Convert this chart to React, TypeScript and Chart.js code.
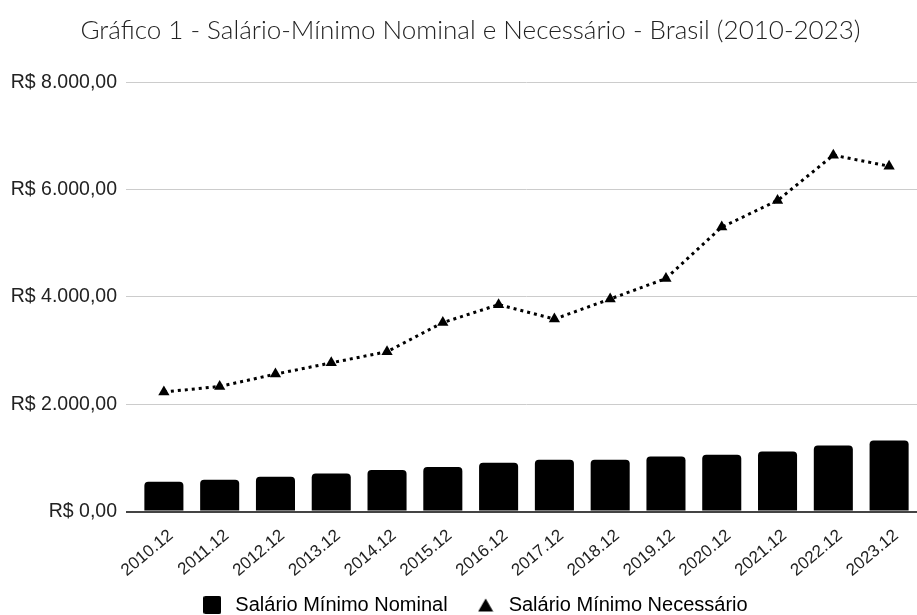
import React, { useEffect, useRef } from 'react';
import { Chart, registerables } from 'chart.js';

Chart.register(...registerables);

const titleText = 'Gráfico 1 - Salário-Mínimo Nominal e Necessário - Brasil (2010-2023)';
const categories = ['2010.12', '2011.12', '2012.12', '2013.12', '2014.12', '2015.12', '2016.12', '2017.12', '2018.12', '2019.12', '2020.12', '2021.12', '2022.12', '2023.12'];
const seriesNames = ['Salário Mínimo Nominal', 'Salário Mínimo Necessário'];
const nominalValues = [554, 591, 647, 709, 772, 828, 910, 965, 965, 1026, 1058, 1119, 1231, 1325];
const necessaryValues = [2227, 2330, 2560, 2770, 2978, 3520, 3855, 3585, 3960, 4342, 5300, 5795, 6640, 6435];
const yTickValues = [0, 2000, 4000, 6000, 8000];
const yTickLabels = ['R$ 0,00', 'R$ 2.000,00', 'R$ 4.000,00', 'R$ 6.000,00', 'R$ 8.000,00'];

const sansFamily = '"Liberation Sans", Arial, sans-serif';

const shiftPlugin = {
  id: 'shiftBlocks',
  afterLayout(chart: any) {
    const t = chart.titleBlock;
    if (t) {
      t.left += 12;
      t.right += 12;
    }
    const l = chart.legend;
    if (l) {
      l.left += 15;
      l.right += 15;
      l.top -= 7.5;
      l.bottom -= 7.5;
    }
  },
};

export default function App() {
  const ref = useRef<HTMLCanvasElement>(null);

  useEffect(() => {
    const canvas = ref.current;
    if (!canvas) return;

    const sq = document.createElement('canvas');
    sq.width = 18;
    sq.height = 18;
    const c1 = sq.getContext('2d')!;
    c1.fillStyle = '#000';
    c1.beginPath();
    c1.roundRect(0, 0, 18, 18, 2);
    c1.fill();

    const tri = document.createElement('canvas');
    tri.width = 16;
    tri.height = 14;
    const c2 = tri.getContext('2d')!;
    c2.fillStyle = '#000';
    c2.beginPath();
    c2.moveTo(8, 0.5);
    c2.lineTo(15.5, 13.5);
    c2.lineTo(0.5, 13.5);
    c2.closePath();
    c2.fill();

    const chart = new Chart(canvas, {
      data: {
        labels: categories,
        datasets: [
          {
            type: 'bar',
            label: seriesNames[0],
            data: nominalValues,
            backgroundColor: '#000',
            borderRadius: 4,
            barPercentage: 0.7,
            categoryPercentage: 1,
          } as any,
          {
            type: 'line',
            label: seriesNames[1],
            data: necessaryValues,
            borderColor: '#000',
            backgroundColor: '#000',
            borderWidth: 3,
            borderDash: [3, 4],
            borderCapStyle: 'butt',
            pointStyle: 'triangle',
            pointRadius: 6.5,
            pointBackgroundColor: '#000',
            pointBorderColor: '#000',
            pointBorderWidth: 0,
            tension: 0,
            fill: false,
          } as any,
        ],
      },
      plugins: [shiftPlugin],
      options: {
        responsive: false,
        animation: false,
        layout: { autoPadding: false, padding: { left: 0, right: 0, top: 0, bottom: -17.5 } },
        plugins: {
          title: {
            display: true,
            text: titleText,
            color: '#222',
            font: { family: 'Lato', size: 26, weight: '300' as any },
            padding: { top: 15, bottom: 36 },
          },
          legend: {
            position: 'bottom',
            labels: {
              usePointStyle: true,
              pointStyleWidth: 26,
              boxHeight: 18,
              padding: 25,
              color: '#222',
              font: { family: sansFamily, size: 20 },
              generateLabels: () => [
                { text: seriesNames[0], pointStyle: sq as any, fillStyle: '#000', strokeStyle: '#000', lineWidth: 0, hidden: false, datasetIndex: 0 },
                { text: seriesNames[1], pointStyle: tri as any, fillStyle: '#000', strokeStyle: '#000', lineWidth: 0, hidden: false, datasetIndex: 1 },
              ],
            },
          },
          tooltip: { enabled: false },
        },
        scales: {
          x: {
            grid: { display: false },
            border: { display: false },
            ticks: {
              color: '#222',
              font: { family: sansFamily, size: 17 },
              maxRotation: 40,
              minRotation: 40,
              padding: 6,
              labelOffset: 7,
              autoSkip: false,
            },
            afterFit: (s: any) => {
              s.height = 66;
              s.paddingRight = 0;
            },
          },
          y: {
            min: 0,
            max: 8000,
            afterBuildTicks: (s: any) => {
              s.ticks = yTickValues.map((v) => ({ value: v }));
            },
            ticks: {
              callback: (_v: any, i: number) => yTickLabels[i],
              padding: 9,
              color: '#222',
              font: { family: sansFamily, size: 19.5 },
            },
            grid: {
              color: (ctx: any) => (ctx.tick && ctx.tick.value === 0 ? '#444' : '#ccc'),
              lineWidth: (ctx: any) => (ctx.tick && ctx.tick.value === 0 ? 2 : 1),
              tickLength: 10,
            },
            border: { display: false },
            afterFit: (s: any) => {
              s.width = 136;
            },
          },
        },
      } as any,
    });

    return () => chart.destroy();
  }, []);

  return (
    <div style={{ position: 'absolute', left: 0, top: 0, width: 917, height: 615, background: '#fff' }}>
      <canvas ref={ref} width={917} height={615} style={{ display: 'block' }} />
    </div>
  );
}
